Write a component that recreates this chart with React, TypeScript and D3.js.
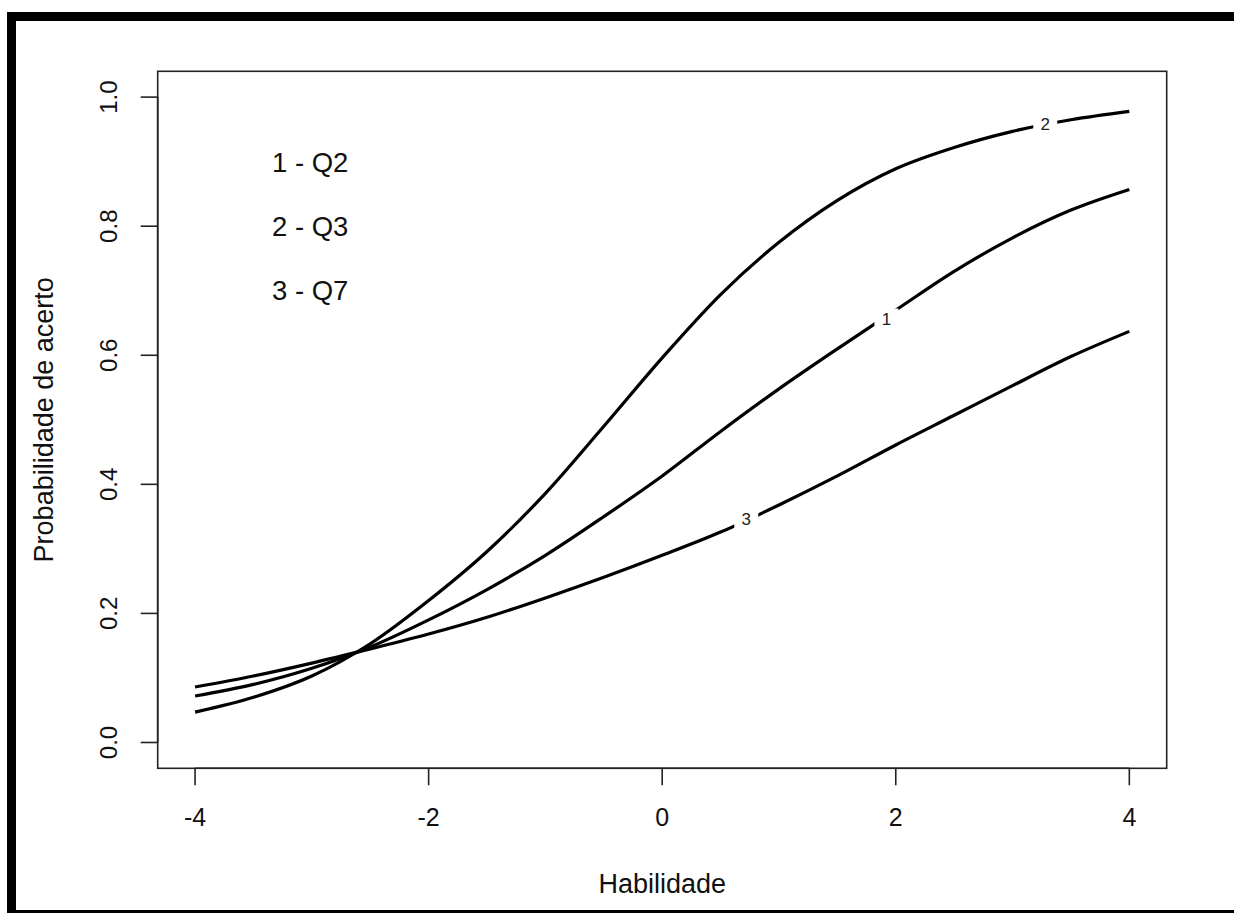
import React, { useEffect, useRef } from 'react';
import * as d3 from 'd3';

// ability grid (theta) and item characteristic curves
const theta = [-4, -3.5, -3, -2.5, -2, -1.5, -1, -0.5, 0, 0.5, 1, 1.5, 2, 2.5, 3, 3.5, 4];
const q2 = [0.072, 0.090, 0.115, 0.148, 0.190, 0.237, 0.290, 0.350, 0.413, 0.482, 0.548, 0.610, 0.670, 0.730, 0.782, 0.825, 0.857];
const q3 = [0.047, 0.070, 0.103, 0.153, 0.220, 0.296, 0.386, 0.490, 0.596, 0.694, 0.775, 0.840, 0.889, 0.922, 0.947, 0.965, 0.978];
const q7 = [0.086, 0.103, 0.123, 0.145, 0.168, 0.194, 0.224, 0.256, 0.290, 0.326, 0.368, 0.413, 0.461, 0.507, 0.553, 0.598, 0.637];

const xTicks = [-4, -2, 0, 2, 4];
const yTicks = [0, 0.2, 0.4, 0.6, 0.8, 1.0];
const legendLines = ['1 - Q2', '2 - Q3', '3 - Q7'];

// contour-style labels sitting on the curves
const curveLabels = [
  { text: '1', x: 1.92, y: 0.657 },
  { text: '2', x: 3.28, y: 0.958 },
  { text: '3', x: 0.72, y: 0.346 },
];

const W = 1234;
const H = 913;

const App = () => {
  const svgRef = useRef<SVGSVGElement | null>(null);

  useEffect(() => {
    if (!svgRef.current) return;
    const svg = d3.select(svgRef.current);
    svg.selectAll('*').remove();

    const font = '"Liberation Sans", Arial, sans-serif';

    // plot region (R style, 4% padding on both axes)
    const box = { left: 157.7, right: 1166.7, top: 71.3, bottom: 768.3 };
    const x = d3.scaleLinear().domain([-4.32, 4.32]).range([box.left, box.right]);
    const y = d3.scaleLinear().domain([-0.04, 1.04]).range([box.bottom, box.top]);

    svg.append('rect').attr('width', W).attr('height', H).attr('fill', '#fff');

    // --- outer black frame (scan border) ---
    svg.append('rect').attr('x', 7).attr('y', 12).attr('width', W - 7).attr('height', 9).attr('fill', '#000');
    svg.append('rect').attr('x', 7).attr('y', 12).attr('width', 9).attr('height', H - 12).attr('fill', '#000');
    svg.append('rect').attr('x', 7).attr('y', 910).attr('width', W - 7).attr('height', 3).attr('fill', '#000');

    // --- box ---
    svg.append('rect')
      .attr('x', box.left).attr('y', box.top)
      .attr('width', box.right - box.left).attr('height', box.bottom - box.top)
      .attr('fill', 'none').attr('stroke', '#222').attr('stroke-width', 1.6);

    // --- x axis ---
    const xAxis = svg.append('g');
    xAxis.append('line')
      .attr('x1', x(-4)).attr('x2', x(4)).attr('y1', box.bottom).attr('y2', box.bottom)
      .attr('stroke', '#222').attr('stroke-width', 1.6);
    xTicks.forEach(t => {
      xAxis.append('line')
        .attr('x1', x(t)).attr('x2', x(t)).attr('y1', box.bottom).attr('y2', box.bottom + 17)
        .attr('stroke', '#222').attr('stroke-width', 1.6);
      xAxis.append('text')
        .attr('x', x(t)).attr('y', 826)
        .attr('text-anchor', 'middle')
        .attr('font-family', font).attr('font-size', 25)
        .attr('fill', '#111')
        .text(String(t));
    });

    // --- y axis ---
    const yAxis = svg.append('g');
    yAxis.append('line')
      .attr('x1', box.left).attr('x2', box.left).attr('y1', y(0)).attr('y2', y(1))
      .attr('stroke', '#222').attr('stroke-width', 1.6);
    yTicks.forEach(t => {
      yAxis.append('line')
        .attr('x1', box.left - 17).attr('x2', box.left).attr('y1', y(t)).attr('y2', y(t))
        .attr('stroke', '#222').attr('stroke-width', 1.6);
      yAxis.append('text')
        .attr('transform', `translate(116.5,${y(t)}) rotate(-90)`)
        .attr('text-anchor', 'middle')
        .attr('font-family', font).attr('font-size', 24)
        .attr('fill', '#111')
        .text(t.toFixed(1));
    });

    // --- axis titles ---
    svg.append('text')
      .attr('x', (box.left + box.right) / 2).attr('y', 893)
      .attr('text-anchor', 'middle')
      .attr('font-family', font).attr('font-size', 27)
      .attr('fill', '#111')
      .text('Habilidade');
    svg.append('text')
      .attr('transform', `translate(53,${(box.top + box.bottom) / 2}) rotate(-90)`)
      .attr('text-anchor', 'middle')
      .attr('font-family', font).attr('font-size', 27)
      .attr('fill', '#111')
      .text('Probabilidade de acerto');

    // --- curves ---
    const line = d3.line<number>()
      .x((_, i) => x(theta[i]))
      .y(d => y(d))
      .curve(d3.curveMonotoneX);

    [q2, q3, q7].forEach(series => {
      svg.append('path')
        .datum(series)
        .attr('d', line)
        .attr('fill', 'none')
        .attr('stroke', '#000')
        .attr('stroke-width', 3.2);
    });

    // --- curve labels (white gap + number) ---
    curveLabels.forEach(l => {
      svg.append('rect')
        .attr('x', x(l.x) - 12).attr('y', y(l.y) - 10)
        .attr('width', 24).attr('height', 20)
        .attr('fill', '#fff');
      svg.append('text')
        .attr('x', x(l.x)).attr('y', y(l.y))
        .attr('dy', '0.36em')
        .attr('text-anchor', 'middle')
        .attr('font-family', font).attr('font-size', 17)
        .attr('fill', '#222')
        .text(l.text);
    });

    // --- legend text ---
    legendLines.forEach((t, i) => {
      svg.append('text')
        .attr('x', 272)
        .attr('y', 172 + i * 64.2)
        .attr('font-family', font).attr('font-size', 27.5)
        .attr('fill', '#111')
        .text(t);
    });
  }, []);

  return (
    <div style={{ position: 'absolute', left: 0, top: 0 }}>
      <svg ref={svgRef} width={W} height={H} style={{ display: 'block' }} />
    </div>
  );
};

export default App;
